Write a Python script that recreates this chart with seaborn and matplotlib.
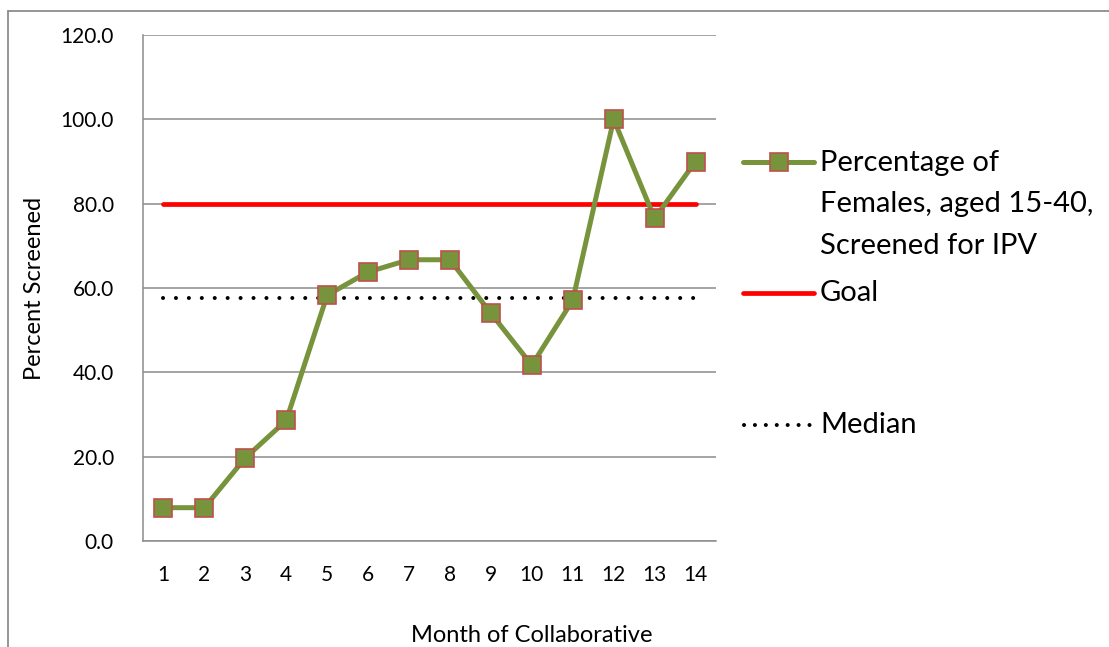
import numpy as np
import pandas as pd
import matplotlib
matplotlib.use("Agg")
import matplotlib.pyplot as plt
from matplotlib.lines import Line2D
import seaborn as sns

# Monthly screening data
months = list(range(1, 15))
pct_screened = [7.9, 7.9, 19.7, 28.6, 58.3, 63.8, 66.7, 66.7, 54.0, 41.7, 57.1, 100.0, 76.5, 90.0]
goal_value = 80.0
y_ticks = [0, 20, 40, 60, 80, 100, 120]

series_label = "Percentage of\nFemales, aged 15-40,\nScreened for IPV"
goal_label = "Goal"
median_label = "Median"

median_value = float(np.median(pct_screened))
df = pd.DataFrame({
    "month": months,
    "pct": pct_screened,
    "goal": [goal_value] * len(months),
    "median": [median_value] * len(months),
})

sns.set_theme(style="white")
plt.rcParams["font.family"] = ["Lato", "DejaVu Sans"]

GREEN = "#77933C"
MARKER_EDGE = "#C0504D"
RED = "#FF0000"
GRID = "#8C8C8C"

TICK_FS = 15
TITLE_FS = 17
LEG_FS = 21
MEDIAN_DASH = (0, (0.01, 3.2))
LEGEND_DOTS = (0, (0.01, 2.7))

W, H = 1109, 647
fig = plt.figure(figsize=(W / 100, H / 100), dpi=100)
ax = fig.add_axes([143 / W, 1 - 541 / H, (716 - 143) / W, (541 - 35) / H])

# Reference lines
sns.lineplot(data=df, x="month", y="median", ax=ax, color="black", lw=2.9,
             linestyle=MEDIAN_DASH, dash_capstyle="round", zorder=3)
sns.lineplot(data=df, x="month", y="goal", ax=ax, color=RED, lw=3.4,
             solid_capstyle="round", zorder=4)
# Main series
sns.lineplot(data=df, x="month", y="pct", ax=ax, color=GREEN, lw=3.6,
             marker="s", markersize=13.5, markerfacecolor=GREEN,
             markeredgecolor=MARKER_EDGE, markeredgewidth=1.2, zorder=5)

ax.set_xlim(0.5, 14.5)
ax.set_ylim(0, 120)

# Y axis
ax.set_yticks(y_ticks)
ax.set_yticklabels([f"{v:.1f}" for v in y_ticks])
ax.yaxis.grid(True, color=GRID, lw=1.1)
ax.set_axisbelow(True)
ax.tick_params(axis="y", which="major", length=5, width=1.1, color=GRID,
               direction="out", pad=16, labelsize=TICK_FS, labelcolor="black")

# X axis: tick marks between categories, labels centred on categories
ax.set_xticks(np.arange(0.5, 15, 1.0))
ax.set_xticklabels([])
ax.set_xticks(months, minor=True)
ax.set_xticklabels([str(m) for m in months], minor=True)
ax.tick_params(axis="x", which="major", length=5, width=1.1, color=GRID, direction="out")
ax.tick_params(axis="x", which="minor", length=0, pad=17.5, labelsize=TICK_FS, labelcolor="black")

for side in ("top", "right"):
    ax.spines[side].set_visible(False)
for side in ("left", "bottom"):
    ax.spines[side].set_color(GRID)
    ax.spines[side].set_linewidth(1.1)

ax.set_xlabel("Month of Collaborative", fontsize=TITLE_FS, color="black")
ax.set_ylabel("Percent Screened", fontsize=TITLE_FS, color="black")
ax.xaxis.set_label_coords((532 - 143) / 573, (541 - 636) / 506)
ax.yaxis.set_label_coords((35 - 143) / 573, (541 - 288) / 506)
ax.xaxis.label.set_va("center")
ax.yaxis.label.set_va("center")

# Legend drawn beside the plot
def fx(px):
    return px / W

def fy(py):
    return 1 - py / H

x0, x1, xt = 743, 814, 820
fig.add_artist(Line2D([fx(x0), fx(x1)], [fy(162), fy(162)], color=GREEN, lw=3.6,
                      solid_capstyle="round"))
fig.add_artist(Line2D([fx((x0 + x1) / 2)], [fy(162)], marker="s", markersize=13.5,
                      markerfacecolor=GREEN, markeredgecolor=MARKER_EDGE,
                      markeredgewidth=1.2, lw=0))
fig.text(fx(xt), fy(150), series_label, fontsize=LEG_FS, va="top", ha="left",
         linespacing=1.73, color="black")
fig.add_artist(Line2D([fx(x0), fx(x1)], [fy(293), fy(293)], color=RED, lw=3.4,
                      solid_capstyle="round"))
fig.text(fx(xt), fy(293), goal_label, fontsize=LEG_FS, va="center", ha="left", color="black")
fig.add_artist(Line2D([fx(x0 + 1), fx(x1 - 4)], [fy(425), fy(425)], color="black", lw=2.9,
                      linestyle=LEGEND_DOTS, dash_capstyle="round"))
fig.text(fx(xt), fy(425), median_label, fontsize=LEG_FS, va="center", ha="left", color="black")

# Chart area frame (top and left edges)
fig.add_artist(Line2D([fx(8), fx(W)], [fy(11), fy(11)], color=GRID, lw=1.3))
fig.add_artist(Line2D([fx(8), fx(8)], [fy(11), fy(H)], color=GRID, lw=1.3))

fig.savefig("out.png", dpi=100, facecolor="white")
